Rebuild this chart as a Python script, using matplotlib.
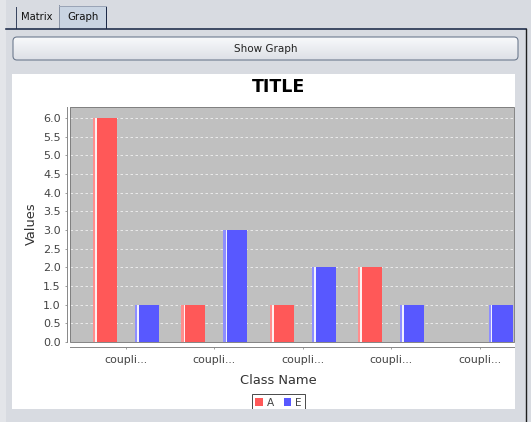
import matplotlib
matplotlib.use('Agg')
import matplotlib.pyplot as plt
from matplotlib.patches import Rectangle, FancyBboxPatch, Patch
from matplotlib.colors import LinearSegmentedColormap
import numpy as np

# ---- data ----
categories = ['coupli...', 'coupli...', 'coupli...', 'coupli...', 'coupli...']
series_names = ['A', 'E']
values_a = [6, 1, 1, 2, 0]
values_b = [1, 3, 2, 1, 1]
y_ticks = [0.0, 0.5, 1.0, 1.5, 2.0, 2.5, 3.0, 3.5, 4.0, 4.5, 5.0, 5.5, 6.0]
tab_labels = ['Matrix', 'Graph']
button_label = 'Show Graph'
chart_title = 'TITLE'
x_label = 'Class Name'
y_label = 'Values'

W, H = 531, 422
PX = 0.72  # points per pixel at dpi 100
BG = '#d8dbe1'

fig = plt.figure(figsize=(W / 100, H / 100), dpi=100, facecolor=BG)

# ---------- background UI layer ----------
ui = fig.add_axes([0, 0, 1, 1], zorder=-5)
ui.set_xlim(0, W)
ui.set_ylim(H, 0)
ui.axis('off')

ui.add_patch(Rectangle((0, 0), 6, H, color='#e3e5e9', lw=0))
# tabs
ui.add_patch(Rectangle((59, 6), 47, 22, facecolor='#c9d4e2', edgecolor='none'))
ui.plot([16, 16], [7, 28], color='#3a4660', lw=1 * PX)
ui.plot([59, 59], [5, 28], color='#8a94a6', lw=1 * PX)
ui.plot([106, 106], [7, 28], color='#1c2a48', lw=1 * PX)
ui.plot([59, 106], [5.5, 5.5], color='#9aa4b6', lw=1 * PX)
ui.text(37, 17, tab_labels[0], ha='center', va='center', fontsize=7.2, color='#111111')
ui.text(83, 17, tab_labels[1], ha='center', va='center', fontsize=7.4, color='#111111')
ui.plot([6, 526], [28.5, 28.5], color='#1c2a48', lw=1.6 * PX)
ui.plot([525.5, 525.5], [29, H], color='#1e1e1e', lw=1.4 * PX)

# button with gradient
cmap = LinearSegmentedColormap.from_list('btn', ['#f8f9fb', '#dde0e6'])
grad = np.linspace(0, 1, 60).reshape(-1, 1)
im = ui.imshow(grad, cmap=cmap, aspect='auto', extent=(13, 518, 60, 37), zorder=1)
btn = FancyBboxPatch((13, 37), 505, 23, boxstyle='round,pad=0,rounding_size=4',
                     facecolor='none', edgecolor='#6d7a8e', lw=1.1 * PX, zorder=2)
ui.add_patch(btn)
im.set_clip_path(btn)
ui.set_xlim(0, W)
ui.set_ylim(H, 0)
ui.text(265.5, 49, button_label, ha='center', va='center', fontsize=7.5, color='#222222', zorder=3)

# white chart panel
ui.add_patch(Rectangle((12, 74), 503, 335, facecolor='white', edgecolor='none', zorder=1))
ui.text(279, 87, chart_title, ha='center', va='center', fontsize=12.5,
        fontweight='bold', color='black', zorder=3)

# ---------- chart ----------
x0, x1, ytop, ybot = 70, 514, 107, 342
ax = fig.add_axes([x0 / W, 1 - ybot / H, (x1 - x0) / W, (ybot - ytop) / H], zorder=1)
ax.set_facecolor('#c0c0c0')

n = len(categories)
xs = np.arange(n)
bw = 0.2715
off = 0.2376
red, red_l, red_w = '#ff5858', '#ff8e8e', '#fff0f0'
blue, blue_l, blue_w = '#5858ff', '#8e8eff', '#f0f0ff'

for vals, sign, c, cl, cw in [(values_a, -1, red, red_l, red_w),
                              (values_b, 1, blue, blue_l, blue_w)]:
    left = xs + sign * off - bw / 2
    ax.bar(left, vals, width=bw, align='edge', color=c, lw=0, zorder=2)
    ax.bar(left, vals, width=bw * 0.09, align='edge', color=cl, lw=0, zorder=3)
    ax.bar(left + bw * 0.09, vals, width=bw * 0.07, align='edge', color=cw, lw=0, zorder=3)

ax.set_xlim((x0 - 126) / 88.4, (x1 - 126) / 88.4)
ax.set_ylim(0, 6.3)
ax.set_yticks(y_ticks)
ax.set_yticklabels([f'{v:.1f}' for v in y_ticks])
ax.set_xticks(xs)
ax.set_xticklabels(categories)

ax.yaxis.grid(True, color='#f2f2f2', linestyle=(0, (3, 3)), linewidth=0.6)
ax.xaxis.grid(False)
ax.set_axisbelow(True)

for s in ['top', 'right']:
    ax.spines[s].set_visible(False)
ax.spines['left'].set_position(('outward', 3.5 * PX))
ax.spines['bottom'].set_position(('outward', 4.5 * PX))
for s in ['left', 'bottom']:
    ax.spines[s].set_color('#8a8a8a')
    ax.spines[s].set_linewidth(1 * PX)
ax.add_patch(Rectangle((0, 0), 1, 1, transform=ax.transAxes, fill=False,
                       edgecolor='#7a7a7a', lw=0.9 * PX, clip_on=False, zorder=4))

ax.tick_params(axis='y', direction='out', length=2.2 * PX, width=0.8 * PX,
               color='#8a8a8a', labelsize=8, labelcolor='#444444', pad=2.5)
ax.tick_params(axis='x', direction='out', length=2.2 * PX, width=0.8 * PX,
               color='#8a8a8a', labelsize=7.9, labelcolor='#444444', pad=4.5)

ax.set_ylabel(y_label, fontsize=9.4, color='#333333')
ax.set_xlabel(x_label, fontsize=9.4, color='#333333')
ax.yaxis.set_label_coords((31 - x0) / (x1 - x0), (ybot - 224) / (ybot - ytop))
ax.xaxis.set_label_coords((278 - x0) / (x1 - x0), (ybot - 380) / (ybot - ytop))
ax.yaxis.label.set_va('center')
ax.xaxis.label.set_va('center')

handles = [Patch(facecolor=red, edgecolor='none'), Patch(facecolor=blue, edgecolor='none')]
leg = ax.legend(handles, series_names, ncol=2, loc='upper center',
                bbox_to_anchor=(278.5 / W, 1 - 394 / H), bbox_transform=fig.transFigure,
                fontsize=7.6, frameon=True, fancybox=False, shadow=False,
                handlelength=0.75, handleheight=0.75, handletextpad=0.35,
                columnspacing=0.9, borderpad=0.35, borderaxespad=0)
leg.get_frame().set_edgecolor('#222222')
leg.get_frame().set_linewidth(1 * PX)
for t in leg.get_texts():
    t.set_color('#444444')

# ---------- foreground band (panel cut-off at bottom) ----------
fg = fig.add_axes([0, 0, 1, 1], zorder=5)
fg.set_xlim(0, W)
fg.set_ylim(H, 0)
fg.axis('off')
fg.add_patch(Rectangle((6, 409), 519, H - 409, facecolor=BG, edgecolor='none'))

fig.savefig('out.png', dpi=100, facecolor=BG)
